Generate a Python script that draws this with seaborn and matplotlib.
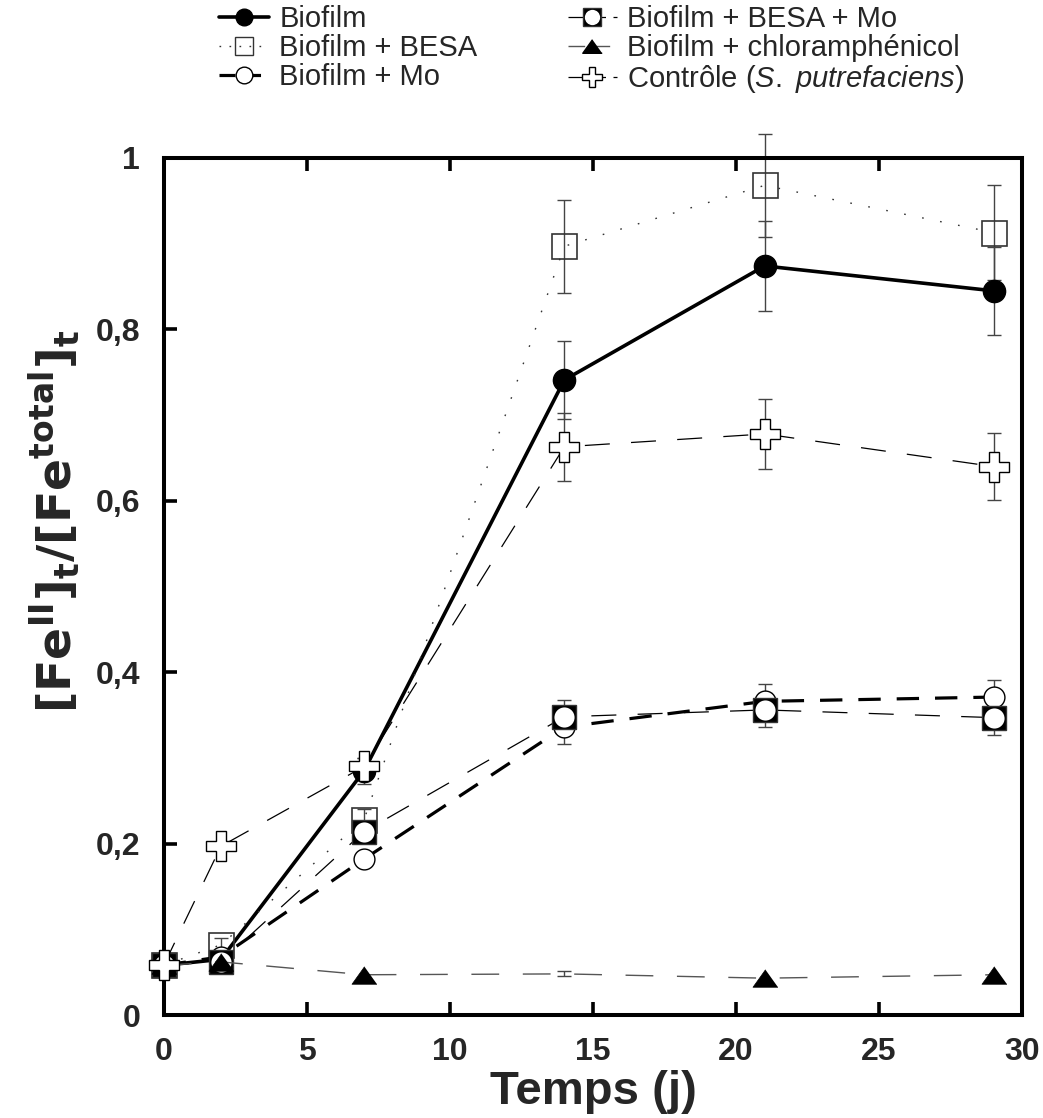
import numpy as np
import pandas as pd
import matplotlib
matplotlib.use("Agg")
import matplotlib.pyplot as plt
import seaborn as sns
from matplotlib.lines import Line2D
from matplotlib.legend_handler import HandlerTuple

# ---------------- data ----------------
days = [0, 2, 7, 14, 21, 29]
biofilm = [0.058, 0.065, 0.285, 0.741, 0.874, 0.845]
biofilm_err = [0.0, 0.005, 0.015, 0.045, 0.052, 0.051]
besa = [0.058, 0.082, 0.228, 0.897, 0.968, 0.913]
besa_err = [0.0, 0.008, 0.012, 0.054, 0.060, 0.055]
mo = [0.058, 0.068, 0.182, 0.336, 0.366, 0.371]
mo_err = [0.0, 0.004, 0.006, 0.020, 0.020, 0.020]
besa_mo = [0.058, 0.062, 0.214, 0.348, 0.356, 0.347]
besa_mo_err = [0.0, 0.004, 0.006, 0.020, 0.020, 0.020]
chloro = [0.058, 0.062, 0.047, 0.048, 0.043, 0.047]
chloro_err = [0.0, 0.0, 0.0, 0.003, 0.0, 0.0]
control = [0.058, 0.197, 0.290, 0.663, 0.678, 0.640]
control_err = [0.0, 0.005, 0.010, 0.040, 0.041, 0.039]

labels = ["Biofilm", "Biofilm + BESA", "Biofilm + Mo",
          "Biofilm + BESA + Mo", "Biofilm + chloramphénicol",
          r"Contrôle ($\mathit{S.\ putrefaciens}$)"]
xticks = [0, 5, 10, 15, 20, 25, 30]
yticks = [0, 0.2, 0.4, 0.6, 0.8, 1.0]
ytick_labels = ["0", "0,2", "0,4", "0,6", "0,8", "1"]

# ---------------- style ----------------
sns.set_theme(style="ticks")
plt.rcParams["font.family"] = ["Liberation Sans", "DejaVu Sans"]
plt.rcParams["mathtext.fontset"] = "custom"
plt.rcParams["mathtext.rm"] = "Liberation Sans"
plt.rcParams["mathtext.it"] = "Liberation Sans:italic"
plt.rcParams["mathtext.bf"] = "DejaVu Sans:bold"

fig = plt.figure(figsize=(10.43, 11.18), dpi=100)
ax = fig.add_axes([0.157, 0.0921, 0.823, 0.7666])

def errbars(y, e, z):
    y = np.asarray(y); e = np.asarray(e); x = np.asarray(days)
    m = e > 0
    ax.errorbar(x[m], y[m], yerr=e[m], fmt="none", ecolor="#444444",
                elinewidth=1.0, capsize=5, capthick=1.0, zorder=z, clip_on=False)

tri = [(0, 0.7), (-1, -0.7), (1, -0.7)]

# Biofilm
errbars(biofilm, biofilm_err, 2)
sns.lineplot(x=days, y=biofilm, ax=ax, color="black", lw=2.6, linestyle="-",
             marker="o", ms=16, mfc="black", mec="black", mew=1,
             errorbar=None, zorder=3, clip_on=False)
# Biofilm + BESA
errbars(besa, besa_err, 2)
sns.lineplot(x=days, y=besa, ax=ax, color="#333333", lw=1.0, linestyle=(0, (1.2, 12)),
             marker="s", ms=18, mfc="none", mec="#333333", mew=1.2,
             errorbar=None, zorder=4, clip_on=False)
# Biofilm + Mo
errbars(mo, mo_err, 2)
sns.lineplot(x=days, y=mo, ax=ax, color="black", lw=2.3, linestyle=(0, (7, 5)),
             marker="o", ms=15, mfc="white", mec="black", mew=1.0,
             errorbar=None, zorder=5, clip_on=False)
# Biofilm + BESA + Mo
errbars(besa_mo, besa_mo_err, 2)
sns.lineplot(x=days, y=besa_mo, ax=ax, color="black", lw=0.9, linestyle=(0, (20, 17)),
             marker="s", ms=17, mfc="black", mec="#333333", mew=1.0,
             errorbar=None, zorder=6, clip_on=False)
sns.lineplot(x=days, y=besa_mo, ax=ax, color="white", linestyle="none",
             marker="o", ms=14.5, mfc="white", mec="white", mew=0,
             errorbar=None, zorder=6.1, clip_on=False)
# Biofilm + chloramphenicol
errbars(chloro, chloro_err, 2)
sns.lineplot(x=days, y=chloro, ax=ax, color="#555555", lw=1.0, linestyle=(0, (20, 17)),
             marker=tri, ms=18, mfc="black", mec="black",
             mew=0.5, markevery=[0, 1, 2, 4, 5],
             errorbar=None, zorder=7, clip_on=False)
# Control
errbars(control, control_err, 2)
sns.lineplot(x=days, y=control, ax=ax, color="black", lw=0.9, linestyle=(0, (20, 17)),
             marker="P", ms=21, mfc="white", mec="black", mew=1.0,
             errorbar=None, zorder=8, clip_on=False)

# ---------------- axes ----------------
ax.set_xlim(0, 30)
ax.set_ylim(0, 1)
ax.set_xticks(xticks)
ax.set_xticklabels([str(t) for t in xticks])
ax.set_yticks(yticks)
ax.set_yticklabels(ytick_labels)
for s in ax.spines.values():
    s.set_linewidth(2.9)
    s.set_color("black")
    s.set_visible(True)
ax.tick_params(direction="in", length=9.5, width=2.6, color="black",
               top=True, right=False, labelsize=23)
ax.tick_params(axis="x", pad=16)
ax.tick_params(axis="y", pad=17)
for lab in ax.get_xticklabels() + ax.get_yticklabels():
    lab.set_fontweight("bold")
ax.set_xlabel("Temps (j)", fontsize=34, fontweight="bold", labelpad=2)
ax.set_ylabel(r"$\mathbf{[Fe^{II}]_t/[Fe^{total}]_t}$", fontsize=34)
ax.yaxis.set_label_coords(-0.094, 0.576)
ax.grid(False)

# ---------------- legend ----------------
h1 = Line2D([], [], color="black", lw=2.6, marker="o", ms=12, mfc="black", mec="black")
h2 = Line2D([], [], color="#333333", lw=1.0, linestyle=(0, (1.2, 6)), marker="s", ms=13.5,
            mfc="none", mec="#333333", mew=1.0)
h3 = Line2D([], [], color="black", lw=2.3, linestyle=(0, (5, 3)), marker="o", ms=12,
            mfc="white", mec="black", mew=1.0)
h4a = Line2D([], [], color="black", lw=0.9, linestyle=(0, (12, 6)), marker="s", ms=13,
             mfc="black", mec="#333333")
h4b = Line2D([], [], linestyle="none", marker="o", ms=11, mfc="white", mec="white", mew=0)
h5 = Line2D([], [], color="#555555", lw=1.0, linestyle=(0, (12, 6)),
            marker=tri, ms=14, mfc="black", mec="black")
h6 = Line2D([], [], color="black", lw=0.9, linestyle=(0, (12, 6)), marker="P", ms=15,
            mfc="white", mec="black", mew=1.0)
fig.legend([h1, h2, h3, (h4a, h4b), h5, h6], labels, ncol=2,
           loc="upper center", bbox_to_anchor=(0.5675, 1.011), frameon=False,
           fontsize=21, handlelength=1.7, handletextpad=0.35, columnspacing=3.09,
           labelspacing=0.03, borderpad=0.1,
           handler_map={tuple: HandlerTuple(ndivide=1)})

fig.savefig("out.png", dpi=100)
